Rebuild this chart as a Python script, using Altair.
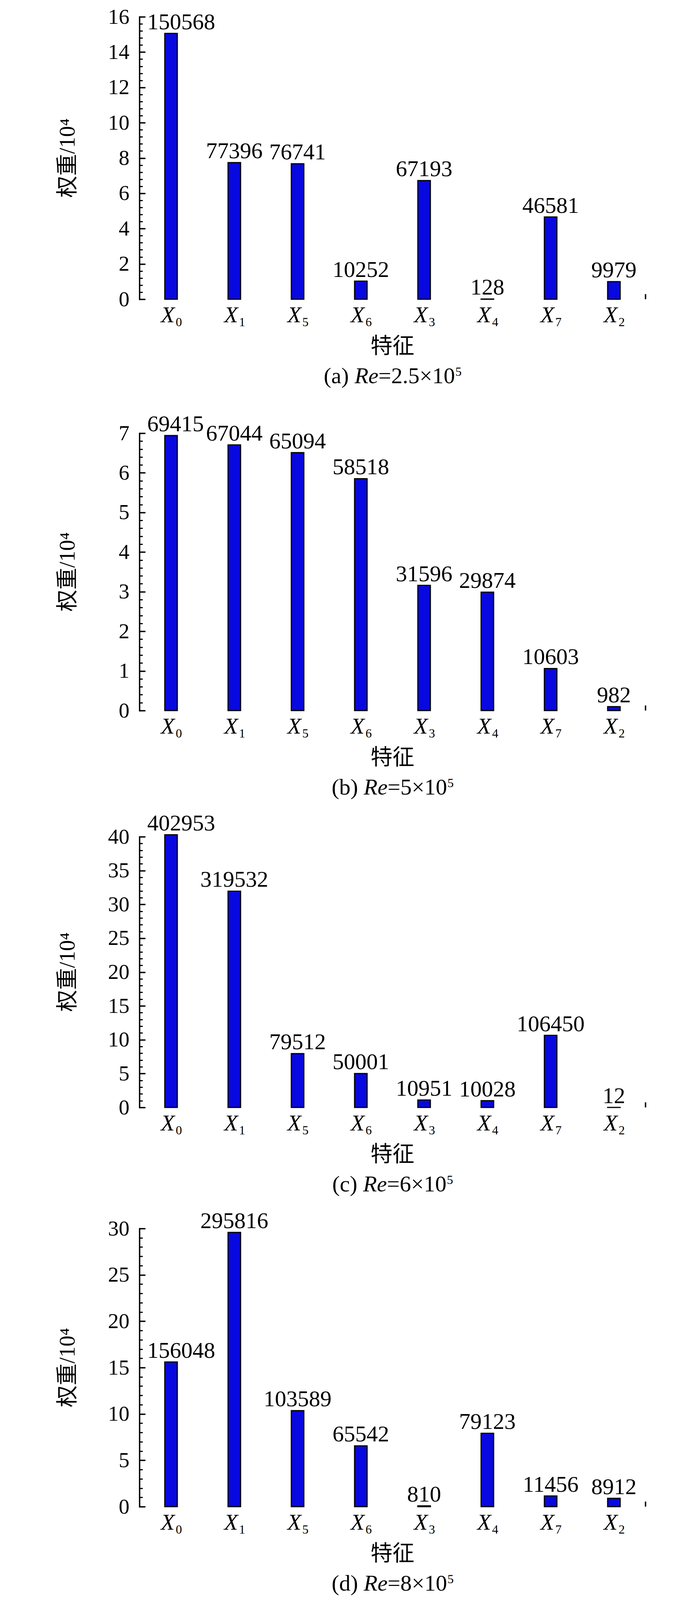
import altair as alt
import numpy as np
import pandas as pd

# ---------------- data ----------------
categories = ["X0", "X1", "X5", "X6", "X3", "X4", "X7", "X2"]
weights_a = [150568, 77396, 76741, 10252, 67193, 128, 46581, 9979]
weights_b = [69415, 67044, 65094, 58518, 31596, 29874, 10603, 982]
weights_c = [402953, 319532, 79512, 50001, 10951, 10028, 106450, 12]
weights_d = [156048, 295816, 103589, 65542, 810, 79123, 11456, 8912]
panel_letters = ["a", "b", "c", "d"]
re_mantissas = ["2.5", "5", "6", "8"]
re_exponent = "5"
y_max = [16, 7, 40, 30]
y_major_step = [2, 1, 5, 5]
y_minor_step = [0.4, 0.2, 1, 1]
x_title = "特征"
y_title = "权重/10⁴"

# ---------------- layout / style ----------------
# the photographed page is about 4096 px tall, so the vertical layout is
# compressed to fit the whole figure in it
W = 1296
heights = [723, 710, 693, 712]
top_ext = [34, 111, 91, 78]
bottom_ext = [230, 230, 230, 230]
XLAB_Y, XSUB_Y, XT_Y, CAP_Y, SUP_DY = 59, 69, 121, 215, -19
XTICK = 13
SERIF = "Liberation Serif"
CJK = "Noto Sans CJK SC"
MIXED = "Liberation Serif, Noto Sans CJK SC"
BLUE = "#0808e0"
VAL_FS = 58
TICK_FS = 55
XL_FS = 58
SUB_FS = 32
CAP_FS = 58
SUP_FS = 32
TITLE_FS = 56

ADV = {'(': 0.333, ')': 0.333, 'a': 0.444, 'b': 0.5, 'c': 0.444, 'd': 0.5,
       ' ': 0.25, '=': 0.564, '.': 0.25, '×': 0.564}
ADV_IT = {'R': 0.611, 'e': 0.444}


def tw(s, size, italic=False):
    tbl = ADV_IT if italic else ADV
    return sum(tbl.get(ch, 0.5) for ch in s) * size


def panel(i, values):
    H = heights[i]
    df = pd.DataFrame({
        "cat": categories,
        "base": [c[0] for c in categories],
        "sub": [c[1:] for c in categories],
        "w": values,
    })
    df["v"] = df["w"] / 1e4
    df["label"] = df["w"].astype(str)
    one = pd.DataFrame({"k": [0]})

    ymax = y_max[i]
    majors = [float(m) for m in np.round(np.arange(0, ymax + 1e-9, y_major_step[i]), 6)]
    minors = [float(m) for m in np.round(np.arange(0, ymax + 1e-9, y_minor_step[i]), 6)
              if not any(abs(m - M) < 1e-6 for M in majors)]

    xs = alt.Scale(type="band", domain=categories, paddingInner=0, paddingOuter=0)
    ys = alt.Scale(domain=[0, ymax], nice=False, zero=True)
    X = alt.X("cat:N", scale=xs, axis=None)
    Y = alt.Y("v:Q", scale=ys, axis=None)
    base = alt.Chart(df)

    bars = base.mark_bar(size=32, fill=BLUE, stroke="black", strokeWidth=3).encode(
        x=alt.X("cat:N", scale=xs, axis=alt.Axis(
            orient="top", offset=-H, labels=False, title=None, domain=True,
            domainColor="black", domainWidth=3.5, domainCap="square", ticks=True,
            tickColor="black", tickWidth=3, tickSize=XTICK, bandPosition=0.5,
            grid=False, zindex=1)),
        y=alt.Y("v:Q", scale=ys, axis=alt.Axis(
            orient="left", values=majors, format="d", labelFont=SERIF,
            labelFontSize=TICK_FS, labelColor="black", labelPadding=26,
            ticks=False, tickSize=0, domain=True, domainColor="black",
            domainWidth=3.5, domainCap="square", grid=False, title=None,
            labelFlush=False, labelOverlap=False)),
    )
    major = base.mark_point(opacity=0).encode(
        x=X,
        y=alt.Y("v:Q", scale=ys, axis=alt.Axis(
            orient="right", offset=-W, values=majors, labels=False, domain=False,
            ticks=True, tickSize=15, tickWidth=3.5, tickColor="black",
            grid=False, title=None)),
    )
    minor = base.mark_point(opacity=0).encode(
        x=X,
        y=alt.Y("v:Q", scale=ys, axis=alt.Axis(
            orient="right", offset=-W, values=minors, labels=False, domain=False,
            ticks=True, tickSize=8, tickWidth=3, tickColor="black",
            grid=False, title=None)),
    )

    first_w = len(str(values[0])) * 0.5 * VAL_FS
    shift = max(0.0, first_w / 2 - 61)
    lab = base.transform_filter(alt.datum.cat != categories[0]).mark_text(
        font=SERIF, fontSize=VAL_FS, baseline="alphabetic", dy=-11, color="black"
    ).encode(x=X, y=Y, text="label:N")
    lab0 = base.transform_filter(alt.datum.cat == categories[0]).mark_text(
        font=SERIF, fontSize=VAL_FS, baseline="alphabetic", dy=-11, dx=shift, color="black"
    ).encode(x=X, y=Y, text="label:N")

    xl = base.mark_text(font=SERIF, fontSize=XL_FS, fontStyle="italic", align="left",
                        baseline="alphabetic", dx=-26, color="black").encode(
        x=X, y=alt.value(H + XLAB_Y), text="base:N")
    xsub = base.mark_text(font=SERIF, fontSize=SUB_FS, align="left",
                          baseline="alphabetic", dx=12, color="black").encode(
        x=X, y=alt.value(H + XSUB_Y), text="sub:N")

    xt = alt.Chart(one).mark_text(font=CJK, fontSize=TITLE_FS, align="center",
                                  baseline="middle", color="black").encode(
        x=alt.value(W / 2), y=alt.value(H + XT_Y), text=alt.value(x_title))

    yt = alt.Chart(one).mark_text(font=MIXED, fontSize=TITLE_FS, angle=270, align="center",
                                  baseline="middle", color="black").encode(
        x=alt.value(-183), y=alt.value(H / 2), text=alt.value(y_title))

    # caption: (x) Re=...×10^5
    s1 = f"({panel_letters[i]}) "
    s2 = "Re"
    s3 = f"={re_mantissas[i]}×10"
    s4 = re_exponent
    w1, w2, w3, w4 = tw(s1, CAP_FS), tw(s2, CAP_FS, True), tw(s3, CAP_FS), tw(s4, SUP_FS)
    x0 = W / 2 - (w1 + w2 + w3 + w4) / 2
    cy = H + CAP_Y
    cap = []
    for txt, xx, fs, style, dyy in [
        (s1, x0, CAP_FS, "normal", 0),
        (s2, x0 + w1, CAP_FS, "italic", 0),
        (s3, x0 + w1 + w2, CAP_FS, "normal", 0),
        (s4, x0 + w1 + w2 + w3 + 1, SUP_FS, "normal", SUP_DY),
    ]:
        cap.append(alt.Chart(one).mark_text(
            font=SERIF, fontSize=fs, fontStyle=style, align="left",
            baseline="alphabetic", color="black", dy=dyy).encode(
            x=alt.value(xx), y=alt.value(cy), text=alt.value(txt)))

    endtick = alt.Chart(one).mark_rule(color="black", strokeWidth=3.5).encode(
        x=alt.value(W), y=alt.value(H), y2=alt.value(H - XTICK))

    spacer = alt.Chart(one).mark_rule(opacity=0, strokeOpacity=0).encode(
        x=alt.value(-348), x2=alt.value(W + 60),
        y=alt.value(-top_ext[i]), y2=alt.value(H + bottom_ext[i]))

    return alt.layer(bars, major, minor, lab, lab0, xl, xsub, xt, yt, *cap,
                     endtick, spacer).resolve_axis(y="independent").properties(
        width=W, height=H)


panels = [panel(i, v) for i, v in enumerate([weights_a, weights_b, weights_c, weights_d])]

chart = alt.vconcat(*panels, spacing=0).properties(
    padding=0, background="white").configure_view(stroke="transparent")

chart.save("out.html", embed_options={"renderer": "svg", "actions": False})
